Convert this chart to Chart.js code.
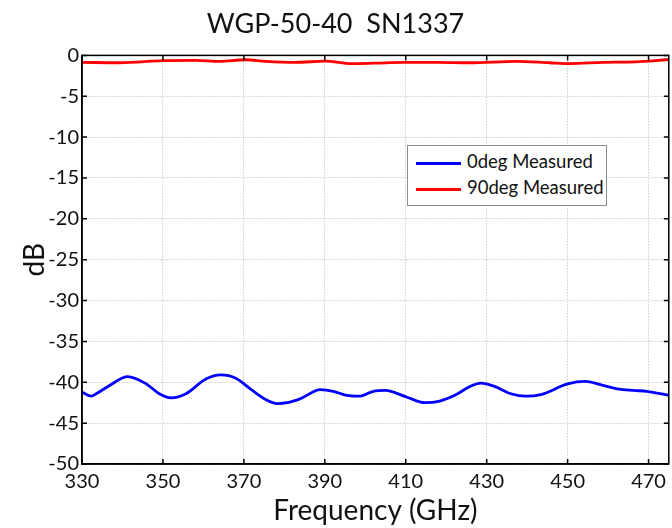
<!DOCTYPE html>
<html>
<head>
<meta charset="utf-8">
<script src="https://cdn.jsdelivr.net/npm/chart.js@4.4.0/dist/chart.umd.min.js"></script>
<style>
  body { margin: 0; background: #fff; }
  #wrap { position: relative; width: 672px; height: 528px; }
  #legend {
    position: absolute; left: 407px; top: 145px; width: 198px; height: 59px;
    border: 1px solid #8c8c8c; background: #fff;
    font-family: Lato, sans-serif; font-size: 18.5px; color: #111;
  }
  #legend div { position: absolute; left: 8px; height: 22px; line-height: 22px; white-space: nowrap; }
  #legend span.ln { display: inline-block; width: 45px; height: 3px; vertical-align: middle; margin-right: 6px; }
</style>
</head>
<body>
<div id="wrap">
  <canvas id="lineChart" width="672" height="528"></canvas>
  <div id="legend"></div>
</div>
<script>
const xTicks = [330, 350, 370, 390, 410, 430, 450, 470];
const yTicks = [0, -5, -10, -15, -20, -25, -30, -35, -40, -45, -50];

const freq0 = [330, 332.3, 333.5, 336.8, 341.3, 345.9, 349.1, 352, 355.7, 360.6, 364.3, 368,
  372.1, 375.4, 378.2, 380.7, 384, 388.9, 392.1, 395.4, 398.7, 402, 404.9, 410.2, 414.7,
  418.4, 422.5, 425.5, 428.6, 431.9, 436, 439.7, 443.4, 450, 454.4, 458.1, 462.2, 466.3,
  469.6, 475];
const db0 = [-41.2, -41.7, -41.4, -40.4, -39.3, -40.2, -41.4, -41.9, -41.4, -39.6, -39.1, -39.5,
  -41.0, -42.1, -42.6, -42.5, -42.0, -40.9, -41.1, -41.6, -41.7, -41.1, -41.0, -41.8, -42.5,
  -42.3, -41.5, -40.6, -40.1, -40.5, -41.4, -41.7, -41.5, -40.2, -39.9, -40.3, -40.8, -41.0,
  -41.1, -41.6];

const freq90 = [330, 339.3, 350, 358, 363.9, 370.4, 375.4, 382.7, 390.1, 396.6, 402, 409.4,
  417.6, 425.8, 437.3, 445.5, 450.4, 458.6, 466.8, 472.5, 475];
const db90 = [-0.85, -0.9, -0.65, -0.6, -0.73, -0.53, -0.73, -0.85, -0.7, -1.0, -0.95, -0.85,
  -0.85, -0.9, -0.73, -0.9, -1.0, -0.85, -0.78, -0.6, -0.5];

const seriesNames = ['0deg Measured', '90deg Measured'];
const seriesColors = ['#0000ff', '#ff0000'];

const toPoints = (xs, ys) => xs.map((x, i) => ({ x: x, y: ys[i] }));

// box round the plot with inward tick marks
const boxPlugin = {
  id: 'box',
  afterDraw(chart) {
    const { ctx, chartArea: a, scales } = chart;
    ctx.save();
    ctx.strokeStyle = '#000';
    ctx.lineWidth = 1.5;
    ctx.strokeRect(a.left, a.top, a.right - a.left, a.bottom - a.top);
    ctx.beginPath();
    xTicks.forEach(v => {
      const px = scales.x.getPixelForValue(v);
      ctx.moveTo(px, a.bottom); ctx.lineTo(px, a.bottom - 5);
      ctx.moveTo(px, a.top); ctx.lineTo(px, a.top + 5);
    });
    yTicks.forEach(v => {
      const py = scales.y.getPixelForValue(v);
      ctx.moveTo(a.left, py); ctx.lineTo(a.left + 5, py);
      ctx.moveTo(a.right, py); ctx.lineTo(a.right - 5, py);
    });
    ctx.stroke();
    ctx.restore();
  }
};

const font = 'Lato, sans-serif';

new Chart(document.getElementById('lineChart').getContext('2d'), {
  type: 'line',
  data: {
    datasets: [
      { label: seriesNames[0], data: toPoints(freq0, db0), borderColor: seriesColors[0],
        borderWidth: 2.8, pointRadius: 0, tension: 0.4, cubicInterpolationMode: 'monotone' },
      { label: seriesNames[1], data: toPoints(freq90, db90), borderColor: seriesColors[1],
        borderWidth: 2.8, pointRadius: 0, tension: 0.4, cubicInterpolationMode: 'monotone' }
    ]
  },
  options: {
    responsive: false,
    animation: false,
    layout: { padding: { left: 0, right: 1, top: 0, bottom: 0 } },
    plugins: {
      legend: { display: false },
      tooltip: { enabled: false },
      title: {
        display: true, text: 'WGP-50-40  SN1337', color: '#111',
        font: { family: font, size: 27, weight: 'normal' },
        padding: { top: 8, bottom: 15 }
      }
    },
    scales: {
      x: {
        type: 'linear', min: 330, max: 475,
        afterBuildTicks: s => { s.ticks = xTicks.map(v => ({ value: v })); },
        afterFit: s => { s.height = 64; },
        ticks: { color: '#111', font: { family: font, size: 20 }, padding: 6, maxRotation: 0 },
        grid: { color: '#b4b4b4', drawTicks: false },
        border: { color: '#000', width: 1.5, dash: [1, 2] },
        title: { display: true, text: 'Frequency (GHz)', color: '#111',
          font: { family: font, size: 28 }, padding: { top: 0, bottom: 0 } }
      },
      y: {
        min: -50, max: 0,
        afterBuildTicks: s => { s.ticks = yTicks.map(v => ({ value: v })); },
        afterFit: s => { s.width = 82; },
        ticks: { color: '#111', font: { family: font, size: 20 }, padding: 3 },
        grid: { color: '#b4b4b4', drawTicks: false },
        border: { color: '#000', width: 1.5, dash: [1, 2] },
        title: { display: true, text: 'dB', color: '#111',
          font: { family: font, size: 28 }, padding: { top: 18, bottom: 0 } }
      }
    }
  },
  plugins: [boxPlugin]
});

const legend = document.getElementById('legend');
seriesNames.forEach((name, i) => {
  const row = document.createElement('div');
  row.style.top = (4 + i * 26) + 'px';
  row.innerHTML = '<span class="ln" style="background:' + seriesColors[i] + '"></span>' + name;
  legend.appendChild(row);
});
</script>
</body>
</html>
